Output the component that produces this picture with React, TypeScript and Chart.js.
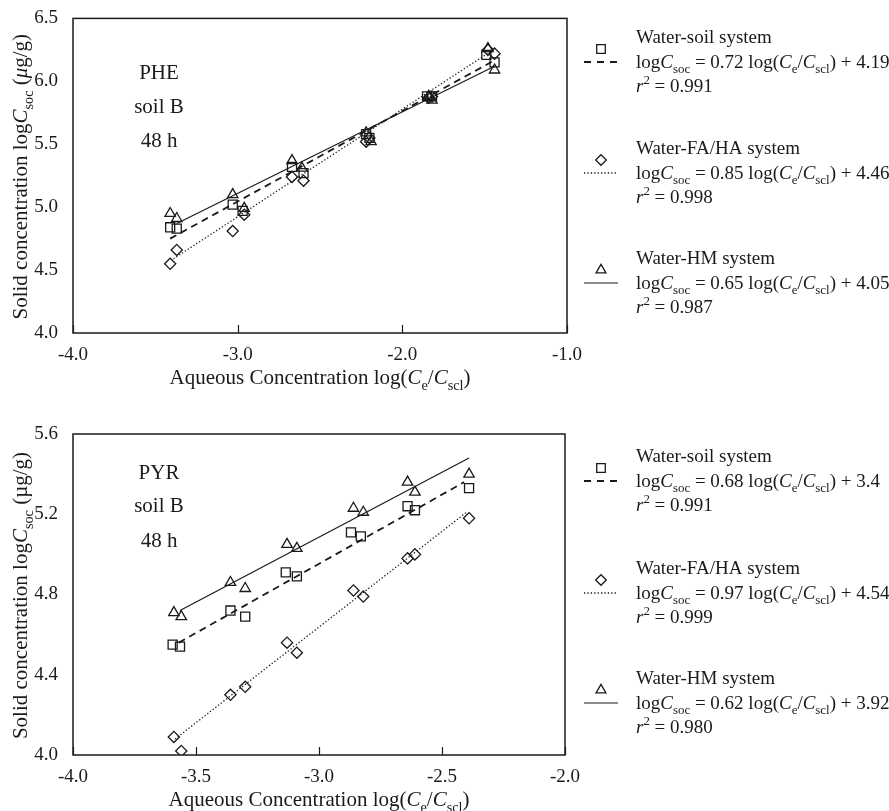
import React, { useEffect, useRef } from 'react';
import { Chart, registerables } from 'chart.js';
import { drawPoint } from 'chart.js/helpers';

Chart.register(...registerables);

// ---------------- PHE (top panel) ----------------
const PHE_X_TICKS = [-4, -3, -2, -1];
const PHE_Y_TICKS = [4.0, 4.5, 5.0, 5.5, 6.0, 6.5];

const PHE_SOIL_X = [-3.41, -3.37, -3.03, -2.97, -2.67, -2.6, -2.22, -2.2, -1.85, -1.82, -1.49, -1.44];
const PHE_SOIL_Y = [4.84, 4.83, 5.02, 4.97, 5.32, 5.27, 5.58, 5.55, 5.88, 5.88, 6.21, 6.15];
const PHE_FAHA_X = [-3.41, -3.37, -3.03, -2.96, -2.67, -2.6, -2.22, -2.2, -1.84, -1.82, -1.48, -1.44];
const PHE_FAHA_Y = [4.55, 4.66, 4.81, 4.94, 5.24, 5.21, 5.52, 5.55, 5.87, 5.88, 6.25, 6.22];
const PHE_HM_X = [-3.41, -3.37, -3.03, -2.96, -2.67, -2.61, -2.22, -2.19, -1.84, -1.82, -1.48, -1.44];
const PHE_HM_Y = [4.95, 4.91, 5.1, 4.99, 5.37, 5.31, 5.59, 5.52, 5.88, 5.85, 6.26, 6.09];

const PHE_SOIL_FIT_X = [-3.41, -1.45];
const PHE_SOIL_FIT_Y = [4.75, 6.16];
const PHE_FAHA_FIT_X = [-3.39, -1.46];
const PHE_FAHA_FIT_Y = [4.59, 6.24];
const PHE_HM_FIT_X = [-3.37, -1.44];
const PHE_HM_FIT_Y = [4.87, 6.12];

const PHE_NOTES = ['PHE', 'soil B', '48 h'];
const PHE_SLOPES = ['0.72', '0.85', '0.65'];
const PHE_INTERCEPTS = ['4.19', '4.46', '4.05'];
const PHE_R2 = ['0.991', '0.998', '0.987'];

// ---------------- PYR (bottom panel) ----------------
const PYR_X_TICKS = [-4, -3.5, -3, -2.5, -2];
const PYR_Y_TICKS = [4.0, 4.4, 4.8, 5.2, 5.6];

const PYR_SOIL_X = [-3.595, -3.565, -3.36, -3.3, -3.135, -3.09, -2.87, -2.83, -2.64, -2.61, -2.39];
const PYR_SOIL_Y = [4.55, 4.54, 4.72, 4.69, 4.91, 4.89, 5.11, 5.09, 5.24, 5.22, 5.33];
const PYR_FAHA_X = [-3.59, -3.56, -3.36, -3.3, -3.13, -3.09, -2.86, -2.82, -2.64, -2.61, -2.39];
const PYR_FAHA_Y = [4.09, 4.02, 4.3, 4.34, 4.56, 4.51, 4.82, 4.79, 4.98, 5.0, 5.18];
const PYR_HM_X = [-3.59, -3.56, -3.36, -3.3, -3.13, -3.09, -2.86, -2.82, -2.64, -2.61, -2.39];
const PYR_HM_Y = [4.71, 4.69, 4.86, 4.83, 5.05, 5.03, 5.23, 5.21, 5.36, 5.31, 5.4];

const PYR_SOIL_FIT_X = [-3.57, -2.41];
const PYR_SOIL_FIT_Y = [4.56, 5.36];
const PYR_FAHA_FIT_X = [-3.585, -2.4];
const PYR_FAHA_FIT_Y = [4.08, 5.21];
const PYR_HM_FIT_X = [-3.565, -2.39];
const PYR_HM_FIT_Y = [4.72, 5.48];

const PYR_NOTES = ['PYR', 'soil B', '48 h'];
const PYR_SLOPES = ['0.68', '0.97', '0.62'];
const PYR_INTERCEPTS = ['3.4', '4.54', '3.92'];
const PYR_R2 = ['0.991', '0.999', '0.980'];

const SYSTEM_NAMES = ['Water-soil system', 'Water-FA/HA system', 'Water-HM system'];

// ---------------- styles ----------------
const INK = '#1a1a1a';
const SERIF = '"Liberation Serif", "Times New Roman", Times, serif';
const MARKERS = [
  { style: 'rect', radius: 6.4 },
  { style: 'rectRot', radius: 5.6 },
  { style: 'triangle', radius: 6 },
];
const LINES = [
  { dash: [7, 5], width: 1.8 },
  { dash: [1.3, 2.1], width: 1.3 },
  { dash: [], width: 1.2 },
];

type Seg = [string, string];

function drawRich(ctx: CanvasRenderingContext2D, segs: Seg[], x: number, y: number, size: number, align: string) {
  const small = size * 0.68;
  const fontOf = (s: string) =>
    s === 'i' ? `italic ${size}px ${SERIF}` : s === 'sub' || s === 'sup' ? `${small}px ${SERIF}` : `${size}px ${SERIF}`;
  const dyOf = (s: string) => (s === 'sub' ? size * 0.27 : s === 'sup' ? -size * 0.42 : 0);
  let w = 0;
  for (const [t, s] of segs) {
    ctx.font = fontOf(s);
    w += ctx.measureText(t).width;
  }
  let cx = align === 'center' ? x - w / 2 : x;
  ctx.textAlign = 'left';
  ctx.textBaseline = 'alphabetic';
  for (const [t, s] of segs) {
    ctx.font = fontOf(s);
    ctx.fillText(t, cx, y + dyOf(s));
    cx += ctx.measureText(t).width;
  }
}

const eqSegs = (slope: string, icpt: string): Seg[] => [
  ['log', 'n'], ['C', 'i'], ['soc', 'sub'], [` = ${slope} log(`, 'n'], ['C', 'i'], ['e', 'sub'],
  ['/', 'n'], ['C', 'i'], ['scl', 'sub'], [`) + ${icpt}`, 'n'],
];
const r2Segs = (r2: string): Seg[] => [['r', 'i'], ['2', 'sup'], [` = ${r2}`, 'n']];
const xTitleSegs: Seg[] = [
  ['Aqueous Concentration log(', 'n'], ['C', 'i'], ['e', 'sub'], ['/', 'n'], ['C', 'i'], ['scl', 'sub'], [')', 'n'],
];

type PanelCfg = {
  top: number;
  height: number;
  plotTop: number;
  plotBottom: number;
  plotLeft: number;
  plotRight: number;
  xMin: number; xMax: number; yMin: number; yMax: number;
  xTicks: number[]; yTicks: number[];
  series: { x: number[]; y: number[] }[];
  fits: { x: number[]; y: number[] }[];
  notes: string[];
  noteY: number[];
  slopes: string[]; intercepts: string[]; r2: string[];
  legendY: number[];
  yTitle: Seg[];
};

const pts = (xs: number[], ys: number[]) => xs.map((x, i) => ({ x, y: ys[i] }));

function Panel({ cfg }: { cfg: PanelCfg }) {
  const ref = useRef<HTMLCanvasElement>(null);
  useEffect(() => {
    const canvas = ref.current!;
    const overlay = {
      id: 'overlay',
      afterDraw(chart: any) {
        const ctx: CanvasRenderingContext2D = chart.ctx;
        const a = chart.chartArea;
        ctx.save();
        ctx.fillStyle = INK;
        ctx.strokeStyle = INK;
        // frame
        ctx.setLineDash([]);
        ctx.lineWidth = 1.5;
        ctx.strokeRect(a.left, a.top, a.right - a.left, a.bottom - a.top);
        // inward x ticks
        const xs = chart.scales.x;
        ctx.lineWidth = 1.2;
        for (const t of xs.ticks) {
          const px = Math.round(xs.getPixelForValue(t.value)) + 0.5;
          ctx.beginPath();
          ctx.moveTo(px, a.bottom);
          ctx.lineTo(px, a.bottom - 8);
          ctx.stroke();
        }
        // notes
        ctx.font = `21px ${SERIF}`;
        ctx.textAlign = 'center';
        ctx.textBaseline = 'alphabetic';
        cfg.notes.forEach((n, i) => ctx.fillText(n, 159, cfg.noteY[i]));
        // axis titles
        drawRich(ctx, xTitleSegs, (a.left + a.right) / 2, a.bottom + 51, 21, 'center');
        ctx.save();
        ctx.translate(27, (a.top + a.bottom) / 2 + 1);
        ctx.rotate(-Math.PI / 2);
        drawRich(ctx, cfg.yTitle, 0, 0, 21, 'center');
        ctx.restore();
        // legend
        for (let i = 0; i < 3; i++) {
          const g = cfg.legendY[i];
          const lineY = g + 19;
          ctx.strokeStyle = INK;
          ctx.lineWidth = LINES[i].width;
          ctx.setLineDash(i === 0 ? [7, 6] : LINES[i].dash);
          ctx.beginPath();
          ctx.moveTo(584, lineY);
          ctx.lineTo(618, lineY);
          ctx.stroke();
          ctx.setLineDash([]);
          ctx.lineWidth = 1.3;
          ctx.fillStyle = 'rgba(0,0,0,0)';
          drawPoint(ctx, { pointStyle: MARKERS[i].style, radius: MARKERS[i].radius * 0.95, rotation: 0, borderWidth: 1.3 } as any, 601, g + 6);
          ctx.fillStyle = INK;
          drawRich(ctx, [[SYSTEM_NAMES[i], 'n']], 636, g, 19, 'left');
          drawRich(ctx, eqSegs(cfg.slopes[i], cfg.intercepts[i]), 636, g + 25, 19, 'left');
          drawRich(ctx, r2Segs(cfg.r2[i]), 636, g + 49, 19, 'left');
        }
        ctx.restore();
      },
    };

    const fitSets = cfg.fits.map((f, i) => ({
      data: pts(f.x, f.y),
      showLine: true,
      borderColor: INK,
      borderWidth: LINES[i].width,
      borderDash: LINES[i].dash,
      pointRadius: 0,
      fill: false,
    }));
    const markerSets = cfg.series.map((s, i) => ({
      data: pts(s.x, s.y),
      showLine: false,
      pointStyle: MARKERS[i].style,
      pointRadius: MARKERS[i].radius,
      pointBorderWidth: 1.3,
      pointBorderColor: INK,
      pointBackgroundColor: 'rgba(0,0,0,0)',
      borderColor: INK,
      backgroundColor: 'rgba(0,0,0,0)',
    }));

    const xAxisHeight = cfg.height - cfg.plotBottom;
    const tickFont = { family: SERIF, size: 19 };
    const chart = new Chart(canvas, {
      type: 'scatter',
      data: { datasets: [...fitSets, ...markerSets] as any },
      options: {
        animation: false,
        responsive: false,
        maintainAspectRatio: false,
        devicePixelRatio: 1,
        events: [],
        layout: { padding: { left: 0, top: cfg.plotTop, right: 889 - cfg.plotRight, bottom: 0 } },
        plugins: { legend: { display: false }, tooltip: { enabled: false }, title: { display: false } },
        scales: {
          x: {
            type: 'linear',
            min: cfg.xMin,
            max: cfg.xMax,
            grid: { display: false },
            border: { display: false },
            afterBuildTicks: (s: any) => { s.ticks = cfg.xTicks.map((v) => ({ value: v })); },
            afterFit: (s: any) => { s.height = xAxisHeight; },
            ticks: { padding: 3, color: INK, font: tickFont, maxRotation: 0, autoSkip: false, callback: (v: any) => Number(v).toFixed(1) },
          },
          y: {
            type: 'linear',
            min: cfg.yMin,
            max: cfg.yMax,
            grid: { display: false },
            border: { display: false },
            afterBuildTicks: (s: any) => { s.ticks = cfg.yTicks.map((v) => ({ value: v })); },
            afterFit: (s: any) => { s.width = cfg.plotLeft; },
            ticks: { padding: 7, color: INK, font: tickFont, autoSkip: false, callback: (v: any) => Number(v).toFixed(1) },
          },
        },
      } as any,
      plugins: [overlay],
    });
    return () => chart.destroy();
  }, [cfg]);
  return (
    <canvas
      ref={ref}
      width={889}
      height={cfg.height}
      style={{ position: 'absolute', left: 0, top: cfg.top, width: 889, height: cfg.height, display: 'block' }}
    />
  );
}

const PHE_CFG: PanelCfg = {
  top: 0, height: 405, plotTop: 16, plotBottom: 333, plotLeft: 73, plotRight: 567,
  xMin: -4, xMax: -1, yMin: 4, yMax: 6.5,
  xTicks: PHE_X_TICKS, yTicks: PHE_Y_TICKS,
  series: [{ x: PHE_SOIL_X, y: PHE_SOIL_Y }, { x: PHE_FAHA_X, y: PHE_FAHA_Y }, { x: PHE_HM_X, y: PHE_HM_Y }],
  fits: [{ x: PHE_SOIL_FIT_X, y: PHE_SOIL_FIT_Y }, { x: PHE_FAHA_FIT_X, y: PHE_FAHA_FIT_Y }, { x: PHE_HM_FIT_X, y: PHE_HM_FIT_Y }],
  notes: PHE_NOTES, noteY: [79, 113, 147],
  slopes: PHE_SLOPES, intercepts: PHE_INTERCEPTS, r2: PHE_R2,
  legendY: [43, 154, 264],
  yTitle: [['Solid concentration log', 'n'], ['C', 'i'], ['soc', 'sub'], [' (', 'n'], ['\u03bc', 'i'], ['g/g)', 'n']],
};

const PYR_CFG: PanelCfg = {
  top: 405, height: 406, plotTop: 29, plotBottom: 350, plotLeft: 73, plotRight: 565,
  xMin: -4, xMax: -2, yMin: 4, yMax: 5.6,
  xTicks: PYR_X_TICKS, yTicks: PYR_Y_TICKS,
  series: [{ x: PYR_SOIL_X, y: PYR_SOIL_Y }, { x: PYR_FAHA_X, y: PYR_FAHA_Y }, { x: PYR_HM_X, y: PYR_HM_Y }],
  fits: [{ x: PYR_SOIL_FIT_X, y: PYR_SOIL_FIT_Y }, { x: PYR_FAHA_FIT_X, y: PYR_FAHA_FIT_Y }, { x: PYR_HM_FIT_X, y: PYR_HM_FIT_Y }],
  notes: PYR_NOTES, noteY: [74, 107, 142],
  slopes: PYR_SLOPES, intercepts: PYR_INTERCEPTS, r2: PYR_R2,
  legendY: [57, 169, 279],
  yTitle: [['Solid concentration log', 'n'], ['C', 'i'], ['soc', 'sub'], [' (\u00b5g/g)', 'n']],
};

export default function App() {
  return (
    <div style={{ position: 'absolute', left: 0, top: 0, width: 889, height: 811, background: '#fff', overflow: 'hidden' }}>
      <Panel cfg={PHE_CFG} />
      <Panel cfg={PYR_CFG} />
    </div>
  );
}
